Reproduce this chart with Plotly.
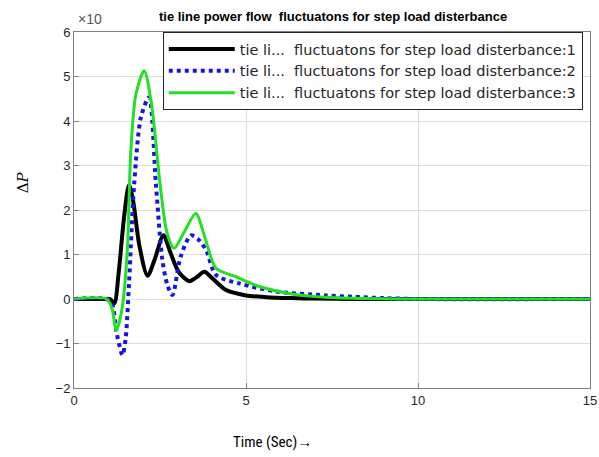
import plotly.graph_objects as go

# Series 1 (black)
t1 = [0, 0.9, 1.05, 1.17, 1.3, 1.45, 1.6, 1.72, 1.9, 2.14, 2.35, 2.6, 2.8, 3.05, 3.35, 3.55, 3.79, 4.0, 4.42, 5.0, 5.6, 6.3, 7.0, 8.0, 10.0, 15.0]
v1 = [0, 0, 0, -0.1, 0.6, 1.8, 2.56, 2.2, 1.2, 0.52, 0.9, 1.43, 1.05, 0.6, 0.4, 0.48, 0.61, 0.48, 0.2, 0.08, 0.04, 0.02, 0.01, 0, 0, 0]

# Series 2 (blue dotted)
t2 = [0, 0.95, 1.1, 1.25, 1.41, 1.5, 1.6, 1.75, 1.95, 2.18, 2.38, 2.57, 2.72, 2.86, 3.1, 3.4, 3.6, 3.84, 4.13, 4.8, 5.87, 7.3, 8.1, 9.0, 10.0, 15.0]
v2 = [0, 0, -0.1, -0.8, -1.26, -0.9, 0.36, 2.59, 4.1, 4.53, 2.59, 0.87, 0.3, 0.09, 0.95, 1.43, 1.35, 1.1, 0.54, 0.35, 0.17, 0.08, 0.05, 0.02, 0, 0]

# Series 3 (green)
t3 = [0, 0.95, 1.1, 1.23, 1.4, 1.55, 1.65, 1.8, 2.04, 2.25, 2.5, 2.7, 2.91, 3.2, 3.54, 3.8, 4.13, 4.71, 5.39, 6.36, 7.3, 8.5, 10.0, 15.0]
v3 = [0, 0, -0.2, -0.7, -0.2, 1.1, 3.3, 4.6, 5.13, 4.4, 2.6, 1.5, 1.14, 1.5, 1.92, 1.4, 0.69, 0.5, 0.28, 0.11, 0.04, 0.01, 0, 0]

gap = "\u00a0\u00a0"
names = [
    "tie li..." + gap + "fluctuatons for step load disterbance:1",
    "tie li..." + gap + "fluctuatons for step load disterbance:2",
    "tie li..." + gap + "fluctuatons for step load disterbance:3",
]

x_ticks = [0, 5, 10, 15]
y_ticks = [-2, -1, 0, 1, 2, 3, 4, 5, 6]

fig = go.Figure()
fig.add_trace(go.Scatter(x=t1, y=v1, mode="lines", name=names[0],
                         line=dict(color="#000000", width=4, shape="spline", smoothing=0.8)))
fig.add_trace(go.Scatter(x=t2, y=v2, mode="lines", name=names[1],
                         line=dict(color="#1515e0", width=4, dash="dot", shape="spline", smoothing=0.8)))
fig.add_trace(go.Scatter(x=t3, y=v3, mode="lines", name=names[2],
                         line=dict(color="#22e022", width=3, shape="spline", smoothing=0.8)))

font_family = "Liberation Sans, Arial, sans-serif"
axis_col = "#808080"

fig.update_layout(
    width=599, height=457,
    margin=dict(l=74, r=9, t=32, b=69, autoexpand=False),
    paper_bgcolor="white", plot_bgcolor="white",
    font=dict(family=font_family, size=13, color="#262626"),
    title=dict(text="<b>tie line power flow  fluctuatons for step load disterbance</b>",
               x=0.556, xanchor="center", y=0.963, yanchor="middle",
               font=dict(size=13, color="#000000")),
    showlegend=True,
    legend=dict(x=0.172, y=1.0, xanchor="left", yanchor="top",
                bgcolor="white", bordercolor="#262626", borderwidth=1,
                font=dict(family="DejaVu Sans, sans-serif", size=14.5, color="#262626"),
                tracegroupgap=0, itemwidth=66),
    xaxis=dict(range=[0, 15], tickvals=x_ticks, showgrid=True, gridcolor="#dcdcdc",
               zeroline=False, showline=True, linecolor=axis_col, mirror=True,
               ticks="inside", ticklen=5, tickcolor=axis_col, automargin=False,
               ticklabeloverflow="allow"),
    yaxis=dict(range=[-2, 6], tickvals=y_ticks, showgrid=True, gridcolor="#dcdcdc",
               zeroline=False, showline=True, linecolor=axis_col, mirror=True,
               ticks="inside", ticklen=5, tickcolor=axis_col, automargin=False),
)

fig.add_annotation(text="\u00d710", xref="paper", yref="paper", x=0.0, y=1.0,
                   xanchor="left", yanchor="bottom", yshift=3, xshift=2, showarrow=False,
                   font=dict(size=14, color="#555555"))
fig.add_annotation(text="Time (Sec)\u2192", xref="paper", yref="paper", x=0.384, y=0,
                   xanchor="center", yanchor="middle", yshift=-54, showarrow=False,
                   font=dict(family="Liberation Sans Narrow, Roboto Condensed, Liberation Sans, sans-serif",
                             size=15, color="#000000"))
fig.add_annotation(text="\u0394<i>P</i>", xref="paper", yref="paper", x=0, y=0.578,
                   xanchor="center", yanchor="middle", xshift=-51, textangle=-90, showarrow=False,
                   font=dict(family="DejaVu Serif, serif", size=15, color="#000000"))

fig.write_html("out.html", config={"displayModeBar": False},
               post_script="document.body.style.margin='0';document.body.style.overflow='hidden';")
